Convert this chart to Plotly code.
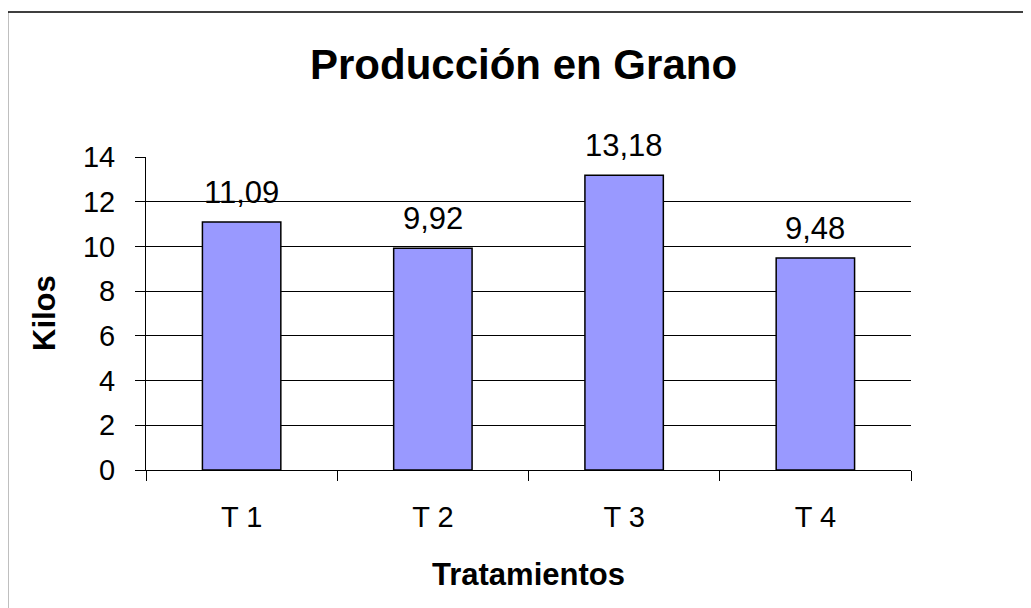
import plotly.graph_objects as go

categories = ["T 1", "T 2", "T 3", "T 4"]
values = [11.09, 9.92, 13.18, 9.48]
y_ticks = [0, 2, 4, 6, 8, 10, 12, 14]

title_text = "Producción en Grano"
x_title = "Tratamientos"
y_title = "Kilos"

FONT = "Liberation Sans, Arial, sans-serif"

# page body has an 8px margin; figure sized so it ends at the window edge
OFF = 8
W, H = 1031 - OFF, 608 - OFF
ML, MT = 146 - OFF, 157 - OFF
PW, PH = 765, 313
MR = W - ML - PW
MB = H - MT - PH


def px_x(x):
    return (x - OFF - ML) / PW


def px_y(y):
    return (MT + PH - (y - OFF)) / PH


fig = go.Figure(
    go.Bar(
        x=categories,
        y=values,
        width=0.41,
        marker=dict(color="#9999FF", line=dict(color="black", width=1.5)),
        hoverinfo="skip",
    )
)

annotations = []
for c, v in zip(categories, values):
    annotations.append(
        dict(
            x=c, y=v, xref="x", yref="y",
            text=f"{v:.2f}".replace(".", ","),
            showarrow=False, yanchor="bottom", yshift=10,
            font=dict(family=FONT, size=31, color="black"),
        )
    )

annotations.append(dict(
    x=px_x(523), y=px_y(64), xref="paper", yref="paper",
    text=f"<b>{title_text}</b>", showarrow=False,
    xanchor="center", yanchor="middle",
    font=dict(family=FONT, size=42, color="black"),
))
annotations.append(dict(
    x=px_x(44), y=px_y(313), xref="paper", yref="paper",
    text=f"<b>{y_title}</b>", showarrow=False, textangle=-90,
    xanchor="center", yanchor="middle",
    font=dict(family=FONT, size=31, color="black"),
))
annotations.append(dict(
    x=px_x(528), y=px_y(574), xref="paper", yref="paper",
    text=f"<b>{x_title}</b>", showarrow=False,
    xanchor="center", yanchor="middle",
    font=dict(family=FONT, size=31, color="black"),
))

fig.update_layout(
    width=W, height=H, autosize=False,
    margin=dict(l=ML, r=MR, t=MT, b=MB, pad=0),
    paper_bgcolor="white", plot_bgcolor="white",
    showlegend=False,
    annotations=annotations,
    shapes=[dict(
        type="rect", xref="paper", yref="paper",
        x0=px_x(7.5), x1=px_x(1045), y0=px_y(625), y1=px_y(12),
        line=dict(color="black", width=1.5), fillcolor="rgba(0,0,0,0)",
        layer="below",
    )],
    xaxis=dict(
        type="category", tickson="boundaries", ticks="outside", ticklen=10,
        tickcolor="black", tickwidth=1, showline=True, linecolor="black",
        linewidth=1, showgrid=False, zeroline=False,
        tickfont=dict(family=FONT, size=29, color="black"),
        ticklabelstandoff=21,
    ),
    yaxis=dict(
        range=[0, 14], tickmode="array", tickvals=y_ticks,
        ticktext=[str(t) for t in y_ticks],
        ticks="outside", ticklen=10, tickcolor="black", tickwidth=1,
        showline=True, linecolor="black", linewidth=1,
        showgrid=True, gridcolor="black", gridwidth=1, zeroline=False,
        tickfont=dict(family=FONT, size=29, color="black"),
        ticklabelstandoff=14,
    ),
)

fig.write_html("out.html")
